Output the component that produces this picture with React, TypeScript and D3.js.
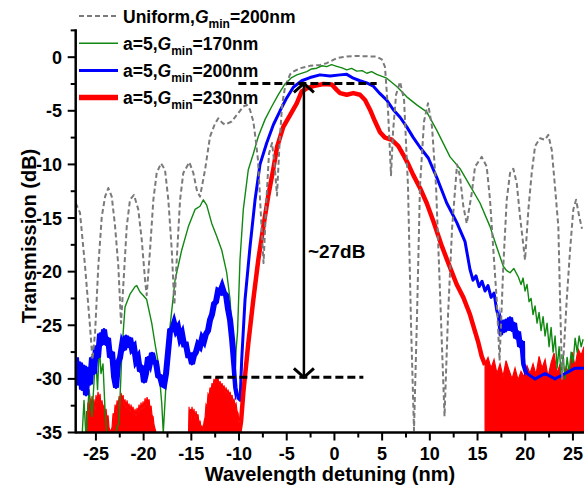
import React from "react";
import * as d3 from "d3";

type Pt = [number, number];

// tick labels
const xTicks = [-25, -20, -15, -10, -5, 0, 5, 10, 15, 20, 25];
const yTicks = [-35, -30, -25, -20, -15, -10, -5, 0];

// legend
const seriesNames = ["Uniform,", "a=5,", "a=5,", "a=5,"];
const gMinValues = [200, 170, 200, 230];

// Uniform, Gmin=200nm (gray dashed)
const uniform: Pt[] = [
  [-27.12, -13.6], [-26.67, -14.5], [-26.14, -19.5], [-25.62, -25.1], [-25.36, -28.2], [-25.09, -25.7],
  [-24.75, -19.5], [-24.39, -14.9], [-24.04, -13.0], [-23.7, -12.2], [-23.34, -13.0], [-22.99, -15.8],
  [-22.65, -19.5], [-22.37, -24.8], [-22.05, -20.1], [-21.77, -15.8], [-21.43, -13.3], [-21.01, -12.85],
  [-20.56, -14.2], [-20.2, -17.0], [-19.85, -20.8], [-19.68, -22.2], [-19.33, -18.0], [-18.98, -13.3],
  [-18.63, -10.8], [-18.18, -9.9], [-17.76, -10.5], [-17.41, -13.3], [-17.05, -18.0], [-16.78, -23.1],
  [-16.53, -18.9], [-16.18, -13.3], [-15.84, -10.8], [-15.21, -9.8], [-14.79, -10.8], [-14.4, -12.5],
  [-14.09, -13.0], [-13.56, -10.5], [-13.04, -7.4], [-12.52, -6.2], [-12.17, -5.7], [-11.78, -6.1],
  [-11.47, -6.3], [-10.77, -6.0], [-10.07, -5.2], [-9.55, -4.6], [-9.19, -4.45], [-8.85, -4.9],
  [-8.5, -6.0], [-8.25, -7.7], [-8.01, -9.6], [-7.69, -15.0], [-7.43, -19.2], [-7.17, -14.0],
  [-6.86, -9.0], [-6.54, -8.0], [-6.28, -10.0], [-6.02, -12.9], [-5.75, -8.0], [-5.49, -4.5],
  [-5.18, -2.8], [-4.65, -1.6], [-4.31, -1.34], [-3.61, -1.03], [-2.56, -0.81], [-1.51, -0.72],
  [-0.81, -0.56], [0.24, -0.09], [1.29, 0.06], [2.34, 0.12], [3.39, 0.08], [4.43, 0.05],
  [4.96, -0.2], [5.3, -0.9], [5.62, -5.0], [5.93, -11.0], [6.14, -7.0], [6.46, -3.5],
  [6.88, -2.3], [7.3, -4.0], [7.71, -12.0], [8.03, -25.0], [8.34, -34.8], [8.66, -24.0],
  [8.97, -12.0], [9.39, -6.0], [9.81, -4.3], [10.23, -6.5], [10.65, -12.0], [11.07, -22.0],
  [11.54, -33.5], [11.91, -24.0], [12.33, -16.0], [12.85, -10.0], [13.16, -11.1], [13.51, -13.9],
  [13.87, -15.5], [14.39, -12.7], [14.74, -10.2], [15.44, -9.3], [15.96, -10.2], [16.31, -13.3],
  [16.66, -18.0], [17.01, -22.6], [17.31, -28.3], [17.7, -19.5], [18.06, -13.3], [18.41, -10.8],
  [18.75, -10.4], [19.11, -11.75], [19.46, -14.9], [19.98, -18.9], [20.33, -14.2], [20.68, -10.8],
  [21.03, -8.3], [21.55, -7.56], [22.08, -7.7], [22.42, -7.25], [22.78, -8.65], [23.12, -12.1],
  [23.47, -15.8], [23.65, -22.6], [23.86, -30.0], [24.07, -27.0], [24.35, -22.6], [24.7, -18.0],
  [25.04, -14.2], [25.33, -13.3], [25.67, -14.9], [25.95, -16.0],
];

// a=5, Gmin=170nm (green)
const green170: Pt[] = [
  [-26.46, -35.5], [-26.25, -32.0], [-26.04, -35.5], [-25.72, -31.0], [-25.41, -33.5], [-25.15, -29.5],
  [-24.99, -28.5], [-24.83, -31.0], [-24.64, -26.8], [-24.47, -29.5], [-24.26, -28.6], [-24.04, -33.0],
  [-23.83, -35.5], [-23.1, -35.5], [-22.58, -34.0], [-22.3, -28.0], [-22.13, -25.5], [-21.95, -23.3],
  [-21.43, -22.1], [-20.9, -21.4], [-20.72, -21.3], [-20.38, -21.9], [-20.06, -22.2], [-19.68, -22.6],
  [-19.15, -24.8], [-18.81, -26.7], [-18.46, -28.5], [-18.1, -32.3], [-17.94, -35.0], [-17.65, -30.4],
  [-17.23, -25.1], [-16.71, -20.8], [-16.01, -18.0], [-15.31, -15.8], [-14.61, -14.2], [-14.09, -13.9],
  [-13.74, -13.3], [-13.39, -13.8], [-12.86, -15.5], [-12.34, -16.7], [-11.81, -18.0], [-11.29, -20.1],
  [-10.94, -22.6], [-10.7, -26.1], [-10.6, -29.5], [-10.47, -30.7], [-10.31, -27.3], [-10.16, -25.7],
  [-9.9, -18.9], [-9.55, -14.2], [-9.03, -10.5], [-8.5, -9.0], [-7.98, -7.4], [-7.27, -5.8],
  [-6.57, -4.6], [-5.88, -3.5], [-5.18, -2.5], [-4.48, -1.9], [-3.95, -1.65], [-2.9, -1.34],
  [-2.4, -1.1], [-1.86, -1.03], [-1.3, -0.8], [-0.81, -0.88], [-0.3, -0.7], [0.24, -0.85],
  [0.8, -1.0], [1.29, -1.18], [1.8, -1.05], [2.34, -1.3], [2.9, -1.25], [3.39, -1.5],
  [3.9, -1.35], [4.43, -1.6], [5.48, -1.96], [6.53, -2.74], [7.58, -3.7], [8.63, -4.45],
  [9.67, -5.1], [10.72, -6.8], [12.12, -9.3], [13.17, -10.4], [14.22, -12.0], [15.26, -13.6],
  [16.31, -15.8], [17.01, -17.7], [17.7, -19.5], [18.05, -19.9], [18.41, -20.1], [18.8, -19.7],
  [19.28, -20.5], [19.56, -21.2], [19.77, -20.6], [19.98, -21.8], [20.19, -21.2], [20.4, -22.8],
  [20.61, -22.5], [20.82, -24.0], [21.03, -23.2], [21.24, -24.8], [21.45, -23.8], [21.66, -25.5],
  [21.87, -24.2], [22.08, -26.0], [22.29, -24.8], [22.5, -27.0], [22.71, -25.2], [22.92, -27.5],
  [23.13, -26.0], [23.34, -29.0], [23.55, -27.0], [23.76, -29.5], [23.97, -27.8], [24.18, -30.0],
  [24.39, -28.0], [24.6, -29.5], [24.81, -27.5], [25.02, -28.5], [25.23, -26.2], [25.44, -27.5],
  [25.65, -26.0], [25.86, -27.0], [26.07, -26.3],
];

// a=5, Gmin=200nm (blue)
const blue200: Pt[] = [
  [-27.09, -28.0], [-26.88, -30.5], [-26.67, -28.5], [-26.46, -31.0], [-26.25, -28.8], [-26.04, -31.5],
  [-25.83, -29.0], [-25.62, -30.5], [-25.41, -28.0], [-25.2, -29.5], [-24.99, -27.0], [-24.78, -28.0],
  [-24.57, -25.8], [-24.36, -26.8], [-24.15, -25.4], [-23.94, -26.8], [-23.73, -26.2], [-23.52, -28.0],
  [-23.31, -27.5], [-23.1, -29.8], [-22.89, -30.8], [-22.68, -28.5], [-22.47, -28.0], [-22.26, -26.8],
  [-22.05, -27.3], [-21.84, -26.0], [-21.63, -27.0], [-21.42, -26.2], [-21.22, -27.2], [-21.01, -27.0],
  [-20.8, -28.3], [-20.59, -28.0], [-20.38, -29.3], [-20.17, -28.8], [-19.96, -30.3], [-19.75, -29.5],
  [-19.54, -28.0], [-19.33, -28.5], [-19.12, -27.6], [-18.91, -28.4], [-18.7, -28.5], [-18.49, -29.7],
  [-18.28, -29.8], [-18.07, -30.5], [-17.86, -30.6], [-17.65, -29.5], [-17.44, -27.5], [-17.23, -25.5],
  [-17.02, -25.4], [-16.81, -24.8], [-16.6, -25.5], [-16.39, -25.2], [-16.18, -26.2], [-15.97, -25.8],
  [-15.77, -26.8], [-15.56, -26.8], [-15.35, -27.8], [-15.14, -27.8], [-14.93, -28.6], [-14.72, -27.8],
  [-14.51, -27.5], [-14.3, -26.8], [-14.09, -27.0], [-13.88, -26.2], [-13.67, -26.5], [-13.46, -25.8],
  [-13.25, -25.5], [-13.04, -24.5], [-12.83, -24.0], [-12.62, -23.0], [-12.41, -22.8], [-12.2, -21.8],
  [-11.99, -21.9], [-11.78, -21.4], [-11.57, -22.0], [-11.36, -22.2], [-11.15, -23.5], [-10.94, -24.5],
  [-10.73, -26.3], [-10.52, -28.5], [-10.31, -30.8], [-10.1, -31.8], [-9.89, -32.0], [-9.72, -28.2],
  [-9.37, -22.6], [-8.85, -17.7], [-8.32, -13.3], [-7.8, -10.0], [-7.1, -8.0], [-6.4, -6.3],
  [-5.7, -5.0], [-5.0, -3.8], [-4.31, -2.8], [-3.43, -2.2], [-2.56, -1.9], [-1.51, -1.65],
  [-0.46, -1.75], [0.59, -1.65], [1.29, -1.6], [1.98, -1.96], [2.68, -2.2], [3.39, -2.4],
  [4.08, -2.7], [4.78, -3.4], [5.48, -4.0], [6.17, -4.9], [6.88, -5.6], [7.58, -6.5],
  [8.27, -7.5], [8.97, -8.4], [9.84, -9.4], [10.72, -11.2], [11.77, -13.6], [12.82, -15.4],
  [13.69, -17.2], [14.21, -19.8], [14.53, -20.8], [14.84, -20.4], [15.16, -21.4], [15.47, -20.9],
  [15.79, -21.8], [16.1, -21.3], [16.42, -22.4], [16.73, -22.0], [17.01, -23.6], [17.2, -24.2],
  [17.36, -25.9], [17.57, -24.6], [17.78, -25.6], [17.99, -24.5], [18.2, -25.4], [18.41, -24.3],
  [18.62, -25.5], [18.83, -24.8], [19.04, -26.2], [19.25, -25.6], [19.46, -27.0], [19.67, -26.5],
  [19.88, -28.6], [20.19, -29.5], [21.03, -30.0], [22.08, -29.5], [23.12, -30.0], [24.18, -29.5],
  [25.23, -29.0], [26.16, -29.0],
];

// a=5, Gmin=230nm (red) main trace
const red230: Pt[] = [
  [-10.05, -35.5], [-9.79, -34.0], [-9.55, -31.3], [-9.03, -26.7], [-8.5, -22.6], [-7.98, -18.9],
  [-7.45, -15.8], [-6.93, -12.9], [-6.4, -10.4], [-6.02, -8.4], [-5.36, -6.5], [-4.65, -5.4],
  [-3.95, -4.3], [-3.43, -3.2], [-2.9, -2.9], [-2.21, -2.7], [-1.16, -2.5], [-0.28, -2.55],
  [0.24, -3.05], [0.59, -3.35], [1.29, -3.5], [1.98, -3.35], [2.68, -3.5], [3.21, -4.0],
  [3.73, -4.9], [4.26, -6.0], [4.78, -7.0], [5.3, -7.5], [6.01, -7.7], [6.7, -8.3],
  [7.22, -9.1], [7.75, -10.0], [8.27, -11.0], [8.97, -12.2], [9.67, -13.6], [10.37, -15.3],
  [11.25, -17.6], [11.94, -19.2], [12.82, -21.2], [13.51, -22.4], [14.21, -24.0], [14.74, -25.6],
  [15.08, -26.6], [15.44, -27.9], [15.79, -28.7],
];

// red noise floor (top of the noise band, band reaches below -35)
const redFloorA: Pt[] = [
  [-26.07, -35], [-25.98, -33.0], [-25.93, -34.0], [-25.83, -32.2], [-25.72, -33.2], [-25.62, -31.8],
  [-25.51, -32.8], [-25.41, -31.6], [-25.3, -32.5], [-25.2, -31.9], [-25.09, -33.0], [-24.99, -31.5],
  [-24.88, -32.3], [-24.78, -31.2], [-24.67, -32.0], [-24.57, -31.4], [-24.47, -32.6], [-24.36, -32.0],
  [-24.26, -33.0], [-24.15, -32.4], [-24.05, -33.4], [-23.94, -32.8], [-23.84, -33.8], [-23.73, -33.4],
  [-23.63, -34.5], [-23.47, -35], [-23.31, -34.5], [-23.2, -33.2], [-23.1, -33.8], [-22.99, -32.4],
  [-22.89, -33.1], [-22.78, -32.0], [-22.68, -32.6], [-22.57, -31.6], [-22.47, -32.3], [-22.36, -31.3],
  [-22.26, -32.0], [-22.15, -31.5], [-22.05, -32.5], [-21.95, -31.9], [-21.84, -32.8], [-21.74, -32.0],
  [-21.63, -32.7], [-21.53, -32.3], [-21.42, -33.1], [-21.32, -32.4], [-21.22, -33.0], [-21.11, -32.6],
  [-21.01, -33.4], [-20.9, -32.8], [-20.8, -33.5], [-20.69, -32.7], [-20.59, -33.2], [-20.48, -32.4],
  [-20.38, -33.0], [-20.27, -32.2], [-20.17, -32.9], [-20.06, -32.1], [-19.96, -32.8], [-19.85, -31.8],
  [-19.75, -32.5], [-19.64, -31.7], [-19.54, -32.3], [-19.43, -31.9], [-19.33, -32.8], [-19.22, -32.5],
  [-19.12, -33.4], [-19.01, -33.5], [-18.91, -34.3], [-18.7, -35],
];
const redFloorB: Pt[] = [
  [-15.29, -35], [-15.24, -32.6], [-15.19, -33.6], [-15.08, -32.8], [-15.03, -33.8], [-14.93, -32.6],
  [-14.82, -33.4], [-14.72, -32.8], [-14.61, -33.8], [-14.51, -33.0], [-14.4, -33.6], [-14.3, -33.3],
  [-14.19, -34.2], [-14.09, -33.9], [-13.98, -34.6], [-13.88, -34.4], [-13.77, -34.8], [-13.67, -34.0],
  [-13.56, -33.6], [-13.46, -32.4], [-13.35, -32.6], [-13.25, -31.4], [-13.14, -31.6], [-13.04, -30.8],
  [-12.94, -31.2], [-12.83, -30.4], [-12.73, -30.8], [-12.62, -30.0], [-12.52, -30.5], [-12.41, -29.8],
  [-12.31, -30.3], [-12.2, -29.9], [-12.1, -30.6], [-11.99, -30.2], [-11.89, -30.8], [-11.78, -30.4],
  [-11.68, -31.0], [-11.57, -30.6], [-11.47, -31.3], [-11.36, -30.8], [-11.26, -31.4], [-11.15, -31.0],
  [-11.05, -31.6], [-10.94, -31.2], [-10.84, -31.8], [-10.73, -31.5], [-10.63, -32.1], [-10.52, -31.9],
  [-10.42, -32.5], [-10.31, -32.3], [-10.21, -33.0], [-10.1, -33.2], [-10.0, -34.2], [-9.84, -35],
];
const redFloorC: Pt[] = [
  [15.79, -28.6], [16.1, -28.0], [16.42, -29.0], [16.73, -28.2], [17.04, -29.5], [17.36, -28.6],
  [17.67, -29.8], [17.99, -28.3], [18.3, -29.2], [18.62, -30.0], [18.93, -29.0], [19.25, -30.1],
  [19.56, -29.3], [19.88, -29.8], [20.19, -28.8], [20.5, -29.5], [20.82, -28.6], [21.13, -29.6],
  [21.45, -27.9], [21.76, -29.0], [22.08, -28.2], [22.39, -29.8], [22.71, -28.5], [23.02, -27.6],
  [23.34, -29.5], [23.65, -28.6], [23.97, -30.0], [24.28, -28.9], [24.6, -29.5], [24.91, -27.5],
  [25.23, -28.8], [25.54, -27.2], [25.86, -27.8], [26.16, -27.0],
];

// ~27dB annotation
const arrowX = -3.2;
const topLevel = -2.45;
const bottomLevel = -29.85;
const topDash: [number, number] = [-10.07, 4.43];
const bottomDash: [number, number] = [-13.74, 3.03];

const FONT = "Arial, 'Liberation Sans', sans-serif";

export default function App() {
  const x = d3.scaleLinear().domain([-27.12, 26.16]).range([75.7, 584]);
  const y = d3.scaleLinear().domain([-35, 2.6]).range([432.5, 29.3]);

  const line = d3.line<Pt>().x((d) => x(d[0])).y((d) => y(d[1]));
  const area = d3
    .area<Pt>()
    .x((d) => x(d[0]))
    .y0(y(-35))
    .y1((d) => y(d[1]));

  const xMinor = d3.range(-27.5, 27, 2.5).filter((v) => v % 5 !== 0 && v >= -27.1 && v <= 26);
  const yMinor = d3.range(-32.5, 3, 5);

  const x0 = x(-27.12);
  const yb = y(-35);
  const ax = x(arrowX);

  const colors = ["#7a7a7a", "#118811", "#0000ff", "#ff0000"];
  const widths = [2, 1.4, 3, 5.5];

  return (
    <svg
      width={584}
      height={491}
      style={{ position: "absolute", left: 0, top: 0, background: "#fff" }}
      fontFamily={FONT}
      fontWeight="bold"
    >
      <defs>
        <clipPath id="plotClip">
          <rect x={x0} y={20} width={584 - x0} height={yb - 20} />
        </clipPath>
        {/* noisy stretches of the blue trace are drawn thicker */}
        <clipPath id="noiseClip">
          <rect x={x0} y={20} width={x(-10.3) - x0} height={yb - 20} />
          <rect x={x(17.3)} y={20} width={x(20) - x(17.3)} height={yb - 20} />
        </clipPath>
      </defs>

      <g clipPath="url(#plotClip)">
        {[redFloorA, redFloorB, redFloorC].map((d, i) => (
          <path key={i} d={area(d) || ""} fill="#ff0000" stroke="#ff0000" strokeWidth={1.2} />
        ))}
        <path d={line(green170) || ""} fill="none" stroke={colors[1]} strokeWidth={1.4} strokeLinejoin="round" />
        <path d={line(blue200) || ""} fill="none" stroke={colors[2]} strokeWidth={3} strokeLinejoin="round" />
        <g clipPath="url(#noiseClip)">
          <path d={line(blue200) || ""} fill="none" stroke={colors[2]} strokeWidth={6} strokeLinejoin="miter" />
        </g>
        <path d={line(red230) || ""} fill="none" stroke={colors[3]} strokeWidth={4.5} strokeLinejoin="round" />
        <path
          d={line(uniform) || ""}
          fill="none"
          stroke={colors[0]}
          strokeWidth={2}
          strokeDasharray="5,3"
          strokeLinejoin="round"
        />
      </g>

      {/* annotation */}
      <line x1={x(topDash[0])} x2={x(topDash[1])} y1={y(topLevel)} y2={y(topLevel)} stroke="#000" strokeWidth={3} strokeDasharray="8,4" />
      <line x1={x(bottomDash[0])} x2={x(bottomDash[1])} y1={y(bottomLevel)} y2={y(bottomLevel)} stroke="#000" strokeWidth={3} strokeDasharray="8,4" />
      <line x1={ax} x2={ax} y1={y(topLevel)} y2={y(bottomLevel)} stroke="#000" strokeWidth={2.5} />
      <polyline
        points={`${ax - 10},${y(topLevel) + 9} ${ax},${y(topLevel)} ${ax + 10},${y(topLevel) + 9}`}
        fill="none"
        stroke="#000"
        strokeWidth={3}
      />
      <polyline
        points={`${ax - 10},${y(bottomLevel) - 9} ${ax},${y(bottomLevel)} ${ax + 10},${y(bottomLevel) - 9}`}
        fill="none"
        stroke="#000"
        strokeWidth={3}
      />
      <text x={ax + 4} y={258} fontSize={19}>~27dB</text>

      {/* axes */}
      <line x1={x0} x2={584} y1={yb} y2={yb} stroke="#000" strokeWidth={2.5} />
      <line x1={x0} x2={x0} y1={yb + 1} y2={y(2.6)} stroke="#000" strokeWidth={2.5} />
      {xTicks.map((v) => (
        <g key={v}>
          <line x1={x(v)} x2={x(v)} y1={yb} y2={yb + 8} stroke="#000" strokeWidth={2} />
          <text x={x(v)} y={460} fontSize={18} textAnchor="middle">{v}</text>
        </g>
      ))}
      {xMinor.map((v) => (
        <line key={v} x1={x(v)} x2={x(v)} y1={yb} y2={yb + 5} stroke="#000" strokeWidth={2} />
      ))}
      {yTicks.map((v) => (
        <g key={v}>
          <line x1={x0 - 8} x2={x0} y1={y(v)} y2={y(v)} stroke="#000" strokeWidth={2} />
          <text x={62} y={y(v) + 6.5} fontSize={18} textAnchor="end">{v}</text>
        </g>
      ))}
      {yMinor.map((v) => (
        <line key={v} x1={x0 - 5} x2={x0} y1={y(v)} y2={y(v)} stroke="#000" strokeWidth={2} />
      ))}
      <text x={330} y={481} fontSize={20} textAnchor="middle">Wavelength detuning (nm)</text>
      <text transform="translate(36,236) rotate(-90)" fontSize={20} textAnchor="middle">Transmission (dB)</text>

      {/* legend */}
      {seriesNames.map((name, i) => {
        const ly = 16 + i * 27.2;
        return (
          <g key={i}>
            <line
              x1={79}
              x2={118}
              y1={ly}
              y2={ly}
              stroke={colors[i]}
              strokeWidth={widths[i]}
              strokeDasharray={i === 0 ? "5,3" : undefined}
            />
            <text x={123} y={ly + 6.5} fontSize={17.5}>
              {name}
              <tspan fontStyle="italic">G</tspan>
              <tspan fontSize={12} dy={5}>min</tspan>
              <tspan dy={-5}>={gMinValues[i]}nm</tspan>
            </text>
          </g>
        );
      })}
    </svg>
  );
}
